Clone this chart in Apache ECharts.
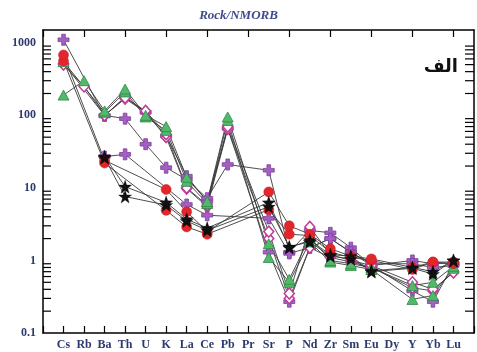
<!DOCTYPE html>
<html>
<head>
<meta charset="utf-8">
<script src="https://cdn.jsdelivr.net/npm/echarts@6/dist/echarts.min.js"></script>
<style>html,body{margin:0;padding:0;background:#fff;}#c{width:477px;height:352px;}</style>
</head>
<body>
<div id="c"></div>
<script>
// Categories (padded with empty slots at both ends)
const elements = ['Cs','Rb','Ba','Th','U','K','La','Ce','Pb','Pr','Sr','P','Nd','Zr','Sm','Eu','Dy','Y','Yb','Lu'];
const yTickLabels = ['0.1','1','10','100','1000'];
// Series values (Cs ... Lu), null = not plotted
const red1      = [680, null, 24, null, null, 9.5, 4.7, 2.5, null, null, 8.8, 3.0, 2.3, 1.45, 1.15, 1.05, null, 0.8, 0.95, 0.95];
const red2      = [560, null, 22, null, null, 4.9, 2.9, 2.3, null, null, 5.0, 2.3, 2.2, 1.3, 1.1, 1.0, null, 0.75, 0.95, 0.9];
const star1     = [null, null, 27, 10.4, null, 6.3, 3.7, 2.8, null, null, 6.3, 1.5, 1.9, 1.2, 1.15, 0.7, null, 0.78, 0.65, 1.0];
const star2     = [null, null, 26, 7.6, null, 5.8, 3.5, 2.6, null, null, 5.5, 1.55, 1.8, 1.15, 1.05, 0.72, null, 0.8, 0.7, 1.0];
const green1    = [190, 300, 115, 230, 100, 70, 14, 6.5, 95, null, 1.7, 0.55, 2.1, 1.0, 0.9, 0.8, null, 0.45, 0.5, 0.83];
const green2    = [550, null, 110, 210, 95, 62, 12.3, 6.1, 85, null, 1.1, 0.5, 1.8, 0.95, 0.85, 0.75, null, 0.29, 0.33, 0.78];
const diamond1  = [500, 250, 100, 175, 115, 55, 10, 5.8, 70, null, 2.5, 0.35, 2.9, 1.2, 1.0, 0.85, null, 0.5, 0.4, 0.68];
const diamond2  = [520, null, 100, 170, 110, 50, 9.8, 5.5, 65, null, 2.0, 0.3, 1.5, 1.1, 0.95, 0.8, null, 0.42, 0.38, 0.7];
const crossHigh = [1100, null, 98, 180, 110, 52, 14.5, 6.5, 66, null, 1.3, 0.27, 1.5, 2.0, 1.3, 0.85, null, 0.38, 0.27, 0.9];
const crossMid  = [null, null, 100, 90, 40, 19, 13, 7.2, 21, null, 17.5, 1.3, 2.6, 2.4, 1.5, 0.85, null, 1.0, 0.9, 0.92];
const crossLow  = [null, null, 27, 29, null, null, 5.9, 4.2, null, null, 3.8, 1.25, 1.5, 2.0, 1.3, 0.9, null, 0.9, 0.8, 0.85];
const minorTickValues = [0.2,0.3,0.4,0.5,0.6,0.7,0.8,0.9,2,3,4,5,6,7,8,9,20,30,40,50,60,70,80,90,200,300,400,500,600,700,800,900];

const cats = [''].concat(elements, ['']);
function pad(arr){ return ['-'].concat(arr.map(v => v == null ? '-' : v), ['-']); }

// star symbol path
let sp = 'path://';
for (let i = 0; i < 10; i++) {
  const r = i % 2 === 0 ? 10 : 4;
  const a = -Math.PI / 2 + i * Math.PI / 5;
  sp += (i === 0 ? 'M' : 'L') + (r * Math.cos(a)).toFixed(2) + ',' + (r * Math.sin(a)).toFixed(2);
}
sp += 'Z';
const crossPath = 'path://M3,0H6V3H9V6H6V9H3V6H0V3H3Z';

const lineStyle = { color: '#3a3a3a', width: 0.9 };
const styles = {
  red:   { symbol: 'circle', symbolSize: 10, itemStyle: { color: '#e3262b', borderColor: '#c81e22', borderWidth: 0.5 } },
  star:  { symbol: sp, symbolSize: 13, itemStyle: { color: '#111111', borderColor: '#000', borderWidth: 0.3 } },
  green: { symbol: 'triangle', symbolSize: [11, 10], itemStyle: { color: '#52b96a', borderColor: '#2f8a45', borderWidth: 0.8 } },
  diam:  { symbol: 'diamond', symbolSize: [10, 11], itemStyle: { color: '#ffffff', borderColor: '#c2399c', borderWidth: 1.5 } },
  cross: { symbol: crossPath, symbolSize: 11, itemStyle: { color: '#a35fc2', borderColor: '#7c3f99', borderWidth: 0.8 } }
};
function mk(name, arr, st) {
  return Object.assign({ name, type: 'line', data: pad(arr), connectNulls: true, lineStyle, z: 3 }, st);
}
const series = [
  mk('crossHigh', crossHigh, styles.cross),
  mk('crossMid', crossMid, styles.cross),
  mk('crossLow', crossLow, styles.cross),
  mk('diamond2', diamond2, styles.diam),
  mk('diamond1', diamond1, styles.diam),
  mk('green2', green2, styles.green),
  mk('green1', green1, styles.green),
  mk('red2', red2, styles.red),
  mk('red1', red1, styles.red),
  mk('star2', star2, styles.star),
  mk('star1', star1, styles.star),
  {
    type: 'custom', silent: true, z: 1,
    data: minorTickValues.map(v => [0, v]),
    encode: { x: 0, y: 1 },
    renderItem: function (params, api) {
      const cs = params.coordSys;
      const y = api.coord([api.value(0), api.value(1)])[1];
      const st = { stroke: '#000', lineWidth: 1.2 };
      return { type: 'group', children: [
        { type: 'line', shape: { x1: cs.x, y1: y, x2: cs.x + 8, y2: y }, style: st },
        { type: 'line', shape: { x1: cs.x + cs.width - 9, y1: y, x2: cs.x + cs.width, y2: y }, style: st }
      ]};
    }
  }
];

const labelFont = { fontFamily: 'Liberation Serif', fontWeight: 'bold', fontSize: 12, color: '#2d3a6e' };
const axisLine = { show: true, lineStyle: { color: '#000', width: 1.5 } };
const chart = echarts.init(document.getElementById('c'));
chart.setOption({
  animation: false,
  title: { text: 'Rock/NMORB', left: 'center', top: 4,
    textStyle: { fontFamily: 'Liberation Serif', fontStyle: 'italic', fontWeight: 'bold', fontSize: 13, color: '#3e4a8c' } },
  grid: { left: 43, right: 2, top: 30, bottom: 19 },
  xAxis: [
    { type: 'category', data: cats, boundaryGap: false, position: 'bottom', axisLine,
      axisTick: { inside: true, length: 7, lineStyle: { color: '#000', width: 1.2 } },
      axisLabel: Object.assign({ margin: 6, interval: 0 }, labelFont), splitLine: { show: false } },
    { type: 'category', data: cats, boundaryGap: false, position: 'top', axisLine,
      axisTick: { inside: true, length: 7, lineStyle: { color: '#000', width: 1.2 } },
      axisLabel: { show: false }, splitLine: { show: false } }
  ],
  yAxis: [
    { type: 'log', logBase: 10, min: 0.1, max: 1500, position: 'left', axisLine,
      axisTick: { inside: true, length: 14, lineStyle: { color: '#000', width: 1.2 } },
      axisLabel: Object.assign({ margin: 7, showMaxLabel: false,
        formatter: v => { const i = Math.round(Math.log10(v)) + 1; return (Math.abs(Math.log10(v) - Math.round(Math.log10(v))) < 1e-6 && yTickLabels[i]) ? yTickLabels[i] : ''; } }, labelFont),
      splitLine: { show: false } },
    { type: 'log', logBase: 10, min: 0.1, max: 1500, position: 'right', axisLine,
      axisTick: { inside: true, length: 14, lineStyle: { color: '#000', width: 1.2 } },
      axisLabel: { show: false }, splitLine: { show: false } }
  ],
  graphic: [
    { type: 'text', right: 19, top: 58, style: { text: 'الف', font: 'bold 18px "DejaVu Sans"', fill: '#111' } }
  ],
  series
});
</script>
</body>
</html>
